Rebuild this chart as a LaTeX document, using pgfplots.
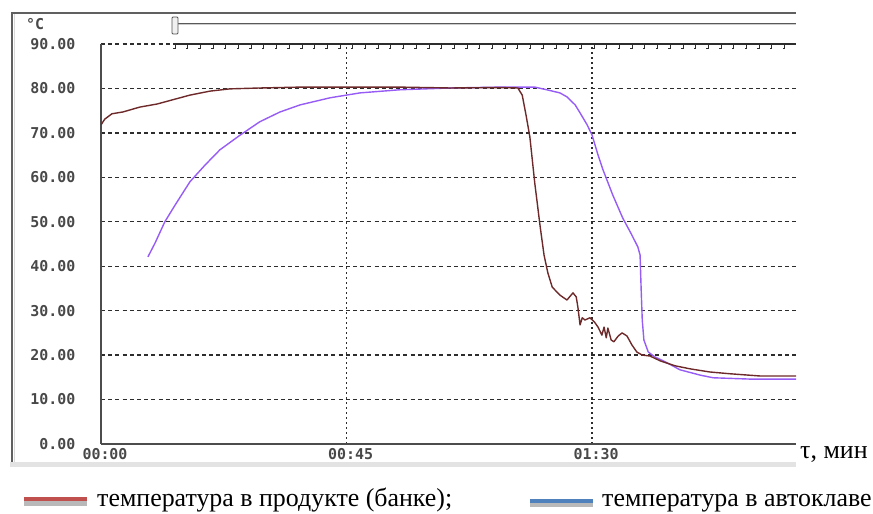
\documentclass[border=0pt]{standalone}
\usepackage{fontspec}
\setmainfont{Liberation Serif}
\newfontfamily\monofont{DejaVu Sans Mono}
\usepackage{pgfplots}
\pgfplotsset{compat=1.18}
\definecolor{brownc}{RGB}{110,42,42}
\definecolor{violetc}{RGB}{150,92,245}
\definecolor{legred}{RGB}{192,80,77}
\definecolor{legblue}{RGB}{79,129,189}
\definecolor{gridc}{RGB}{45,45,45}
\definecolor{txtc}{RGB}{72,72,72}
\pgfplotstableread{
t T
0.0 71.8
0.7 73.1
2.0 74.3
4.0 74.7
7.1 75.8
10.3 76.5
13.6 77.6
16.3 78.5
20.0 79.4
23.6 79.9
29.1 80.1
36.5 80.3
45.6 80.3
54.8 80.3
64.0 80.1
73.1 80.2
76.4 80.1
77.2 78.5
77.9 74.0
78.6 69.1
79.5 58.7
80.5 48.8
81.2 42.5
81.9 38.5
82.7 35.3
84.1 33.5
85.4 32.4
86.5 34.0
87.1 33.1
87.4 30.8
87.8 26.8
88.2 28.4
88.7 27.9
89.6 28.4
90.4 27.5
91.1 26.3
91.8 24.5
92.2 26.3
92.6 23.9
92.9 26.1
93.5 23.4
94.0 23.0
94.8 24.3
95.5 25.0
96.4 24.3
97.3 22.3
98.2 20.7
99.2 20.0
100.6 19.8
102.5 18.7
105.2 17.6
108.0 16.9
111.6 16.2
115.3 15.8
120.8 15.3
127.4 15.3
}\product
\pgfplotstableread{
t T
8.6 42.1
9.9 45.2
11.7 50.0
13.6 53.8
16.3 59.0
19.1 62.8
21.8 66.2
25.5 69.5
29.1 72.5
32.8 74.7
36.5 76.3
42.0 77.9
47.5 79.0
54.8 79.7
64.0 80.1
73.1 80.3
79.5 80.3
81.7 79.7
84.1 79.0
85.4 78.1
86.9 76.3
87.8 74.5
89.1 71.8
90.0 69.5
91.1 65.0
92.0 61.7
93.8 56.0
95.6 50.9
97.3 47.0
98.4 44.3
98.8 42.5
99.0 34.7
99.2 27.9
99.5 23.4
100.3 20.7
101.5 19.6
103.4 18.5
106.1 16.7
109.8 15.5
112.2 14.9
119.0 14.6
127.4 14.6
}\autoclave
\begin{document}
\begin{tikzpicture}[x=1bp,y=1bp]
\useasboundingbox (0,0) rectangle (873,514);
\clip (0,0) rectangle (873,514);
% window frame
\fill[gray!22] (10,47) rectangle (796,52);
\draw[gray!75!black, line width=1.2bp] (12,52) -- (12,501) -- (796,501);
\draw[gray!30, line width=1bp] (14.5,52) -- (14.5,499.5);
% slider
\draw[gray!70!black, line width=1bp] (176,490.5) -- (796,490.5);
\draw[gray!40, line width=1bp] (176,489) -- (796,489);
\draw[fill=gray!12, draw=gray!65!black, line width=0.8bp, rounded corners=1bp] (172,480) rectangle (178,497);
\node[anchor=west, inner sep=0, font=\monofont\bfseries\fontsize{15}{18}\selectfont, text=txtc] at (26,490) {°C};
\begin{axis}[
  at={(101bp,70bp)}, anchor=south west, scale only axis,
  width=695bp, height=400bp,
  xmin=0, xmax=127.38, ymin=0, ymax=90,
  axis x line*=bottom, axis y line*=left,
  axis line style={-, gridc!85!white, line width=1.5bp},
  xtick={0,45,90}, xticklabels={00:00,00:45,01:30},
  ytick={0,10,...,90},
  major tick length=0pt,
  ymajorgrids, xmajorgrids,
  y grid style={gridc, line width=1.3bp, dash pattern=on 4bp off 3.2bp},
  x grid style={gridc, line width=1.6bp, dash pattern=on 2.2bp off 2.8bp},
  tick label style={font=\monofont\bfseries\fontsize{15}{18}\selectfont, text=txtc},
  yticklabel style={/pgf/number format/fixed, /pgf/number format/fixed zerofill, /pgf/number format/precision=2, /pgf/number format/assume math mode=true, anchor=east, xshift=-22bp},
  xticklabel style={anchor=north, xshift=4bp, yshift=-1bp},
]
\addplot[violetc, line width=1.4bp, line join=round] table[x=t, y=T] {\autoclave};
\addplot[brownc, line width=1.4bp, line join=round] table[x=t, y=T] {\product};
\end{axis}
% top border with ticks
\draw[gridc, line width=1.2bp] (175,470) -- (796,470);
\foreach \k in {0,...,48} \draw[gridc, line width=0.9bp] ({175+12.7*\k},470) -- ++(0,-4) -- ++(-2,0);
% legend
\fill[legred] (24,13) rectangle (87,17);
\fill[gray!55] (24,8) rectangle (87,13);
\node[anchor=base west, inner sep=0, font=\fontsize{26}{30}\selectfont] at (97,7) {температура в продукте (банке);};
\fill[legblue] (530,11) rectangle (593,15);
\fill[gray!55] (530,7) rectangle (593,11);
\node[anchor=base west, inner sep=0, font=\fontsize{26}{30}\selectfont] at (602,7) {температура в автоклаве};
\node[anchor=base west, inner sep=0, font=\fontsize{26}{30}\selectfont] at (800,55) {τ, мин};
\end{tikzpicture}
\end{document}
